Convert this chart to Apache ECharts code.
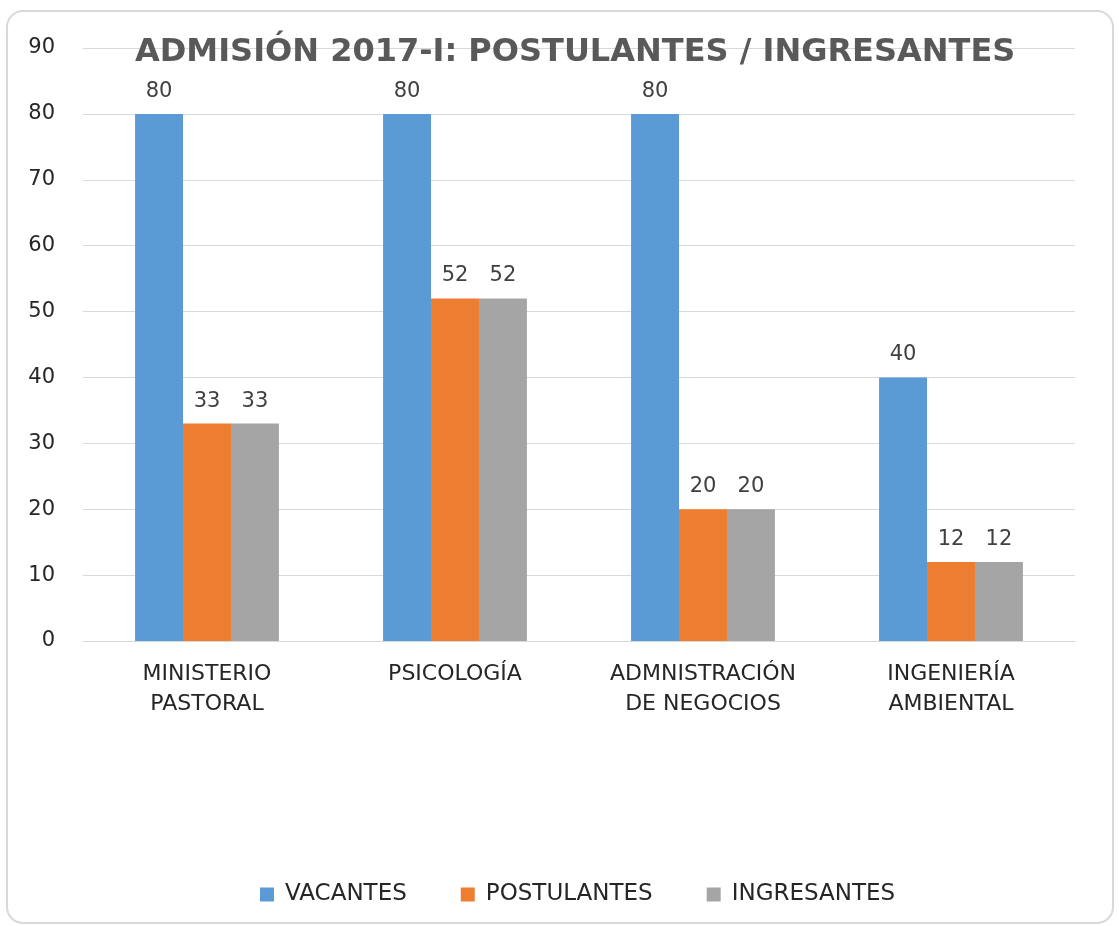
<!DOCTYPE html>
<html>
<head>
<meta charset="utf-8">
<script src="https://cdn.jsdelivr.net/npm/echarts@6/dist/echarts.min.js"></script>
<style>
  html, body { margin: 0; padding: 0; background: #fff; }
  #chart { width: 1119px; height: 926px; }
</style>
</head>
<body>
<div id="chart"></div>
<script>
// datos del gráfico
const categorias = ["MINISTERIO\nPASTORAL", "PSICOLOGÍA", "ADMNISTRACIÓN\nDE NEGOCIOS", "INGENIERÍA\nAMBIENTAL"];
const vacantes = [80, 80, 80, 40];
const postulantes = [33, 52, 20, 12];
const ingresantes = [33, 52, 20, 12];
const yTicks = [0, 10, 20, 30, 40, 50, 60, 70, 80, 90];

const fuente = "'DejaVu Sans', 'Open Sans', sans-serif";
const colores = ["#5b9bd5", "#ed7d31", "#a5a5a5"];

let chart = echarts.init(document.getElementById("chart"));

let serie = function (name, data, color) {
    return {
        name: name,
        type: "bar",
        data: data,
        barGap: "0%",
        barCategoryGap: "42%",
        itemStyle: { color: color },
        label: {
            show: true,
            position: "top",
            distance: 12,
            color: "#404040",
            fontSize: 21,
            fontFamily: fuente
        }
    };
};

chart.setOption({
    animation: false,
    backgroundColor: "#fff",
    color: colores,
    title: {
        text: "ADMISIÓN 2017-I: POSTULANTES / INGRESANTES",
        left: 130,
        top: 32,
        textStyle: {
            fontFamily: fuente,
            fontWeight: "bold",
            fontSize: 32,
            color: "#595959"
        }
    },
    graphic: [{
        type: "rect",
        shape: { x: 7, y: 11, width: 1106, height: 912, r: 16 },
        style: { fill: null, stroke: "#d9d9d9", lineWidth: 2 },
        z: -1
    }],
    legend: {
        bottom: 15,
        left: 255,
        itemWidth: 14,
        itemHeight: 14,
        itemGap: 54,
        icon: "rect",
        textStyle: { fontFamily: fuente, fontSize: 23, color: "#262626", padding: [0, 0, 0, 6] },
        data: ["VACANTES", "POSTULANTES", "INGRESANTES"]
    },
    grid: {
        left: 83,
        right: 44,
        top: 48,
        bottom: 285,
        containLabel: false
    },
    xAxis: {
        type: "category",
        data: categorias,
        axisLine: { lineStyle: { color: "#d9d9d9", width: 1 } },
        axisTick: { show: false },
        axisLabel: {
            fontFamily: fuente,
            fontSize: 22,
            color: "#262626",
            lineHeight: 30,
            margin: 18,
            interval: 0
        }
    },
    yAxis: {
        type: "value",
        min: yTicks[0],
        max: yTicks[yTicks.length - 1],
        interval: 10,
        axisLine: { show: false },
        axisTick: { show: false },
        splitLine: { lineStyle: { color: "#d9d9d9", width: 1 } },
        axisLabel: {
            fontFamily: fuente,
            fontSize: 21,
            color: "#262626",
            margin: 28
        }
    },
    series: [
        serie("VACANTES", vacantes, colores[0]),
        serie("POSTULANTES", postulantes, colores[1]),
        serie("INGRESANTES", ingresantes, colores[2])
    ]
});
</script>
</body>
</html>
